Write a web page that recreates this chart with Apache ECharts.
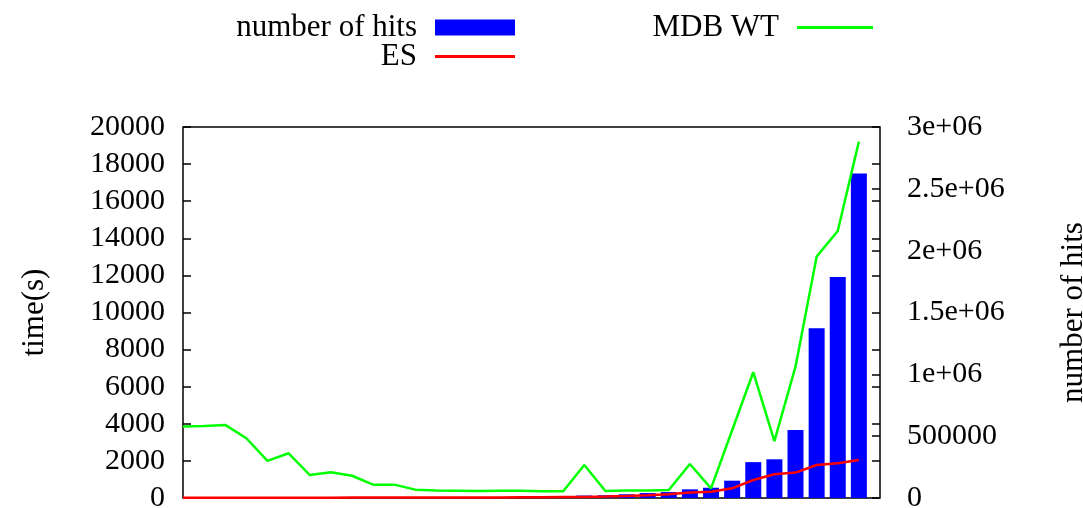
<!DOCTYPE html>
<html>
<head>
<meta charset="utf-8">
<script src="https://cdn.jsdelivr.net/npm/echarts@6/dist/echarts.min.js"></script>
<style>html,body{margin:0;padding:0;background:#fff}#c{width:1083px;height:508px}</style>
</head>
<body>
<div id="c"></div>
<script>
// Data (33 runs, x = run index)
var xIndex = [0,1,2,3,4,5,6,7,8,9,10,11,12,13,14,15,16,17,18,19,20,21,22,23,24,25,26,27,28,29,30,31,32];
var hits = [200,300,400,500,600,800,1000,1200,1500,1800,2200,2700,3300,4000,5000,6000,8000,11000,15000,20000,22000,30000,40000,48000,70000,83000,140000,290000,313000,550000,1372000,1787000,2625000];
var esTime = [15,15,16,17,18,18,20,20,22,22,24,25,27,28,30,32,35,40,50,60,75,110,150,200,290,340,520,970,1280,1370,1780,1870,2050];
var mdbTime = [3850,3880,3940,3220,2000,2410,1240,1390,1200,720,720,450,400,395,380,390,390,370,360,1780,380,400,410,430,1830,520,3650,6780,3070,7080,13010,14390,19210];
var leftTicks = [0,2000,4000,6000,8000,10000,12000,14000,16000,18000,20000];
var rightTicks = [0,500000,1000000,1500000,2000000,2500000,3000000];

function pairs(vals){ return xIndex.map(function(x,i){ return [x, vals[i]]; }); }

var FONT = '"Liberation Serif", serif';
var chart = echarts.init(document.getElementById('c'), null, {renderer:'canvas'});
var legendBase = {
  orient:'horizontal', align:'right', padding:0, itemGap:0,
  textStyle:{fontFamily:FONT, fontSize:31, color:'#000', lineHeight:30, padding:[0,13,0,0]},
  selectedMode:false
};
chart.setOption({
  animation:false,
  backgroundColor:'#fff',
  textStyle:{fontFamily:FONT},
  legend:[
    Object.assign({}, legendBase, {right:568, top:12, itemWidth:80, itemHeight:16,
      data:[{name:'number of hits', icon:'rect'}]}),
    Object.assign({}, legendBase, {right:568, top:41, itemWidth:80, itemHeight:3,
      data:[{name:'ES', icon:'rect'}]}),
    Object.assign({}, legendBase, {right:210, top:12, itemWidth:76, itemHeight:3,
      data:[{name:'MDB WT', icon:'rect'}]})
  ],
  grid:{left:183, right:203, top:127, bottom:10, show:true, borderColor:'#000', borderWidth:1.5,
        backgroundColor:'transparent', containLabel:false, outerBoundsMode:'none'},
  xAxis:{type:'value', min:0, max:33, show:false},
  yAxis:[
    {type:'value', position:'left', min:0, max:20000, interval:2000,
     name:'time(s)', nameLocation:'middle', nameGap:133, nameRotate:90,
     nameTextStyle:{fontFamily:FONT, fontSize:31, color:'#000'},
     axisLine:{show:false}, splitLine:{show:false},
     axisTick:{show:true, inside:true, length:8, lineStyle:{color:'#000', width:1.5}},
     axisLabel:{fontFamily:FONT, fontSize:30, color:'#000', margin:18,
       formatter:function(v){ return String(v); }}},
    {type:'value', position:'right', min:0, max:20000, interval:2000,
     axisLine:{show:false}, splitLine:{show:false}, axisLabel:{show:false},
     axisTick:{show:true, inside:true, length:8, lineStyle:{color:'#000', width:1.5}}},
    {type:'value', position:'right', min:0, max:3000000, interval:500000,
     name:'number of hits', nameLocation:'middle', nameGap:178, nameRotate:90,
     nameTextStyle:{fontFamily:FONT, fontSize:31, color:'#000'},
     axisLine:{show:false}, splitLine:{show:false},
     axisTick:{show:true, inside:true, length:8, lineStyle:{color:'#000', width:1.5}},
     axisLabel:{fontFamily:FONT, fontSize:30, color:'#000', margin:27, align:'left',
       formatter:function(v){
         if (v === 0) return '0';
         if (v < 1000000) return String(v);
         return (v/1000000) + 'e+06';
       }}}
  ],
  series:[
    {name:'number of hits', type:'bar', xAxisIndex:0, yAxisIndex:2, barWidth:16,
     itemStyle:{color:'#0000ff'}, data:pairs(hits), z:2},
    {name:'ES', type:'line', yAxisIndex:0, symbol:'none', showSymbol:false,
     lineStyle:{color:'#ff0000', width:2.5}, itemStyle:{color:'#ff0000'}, data:pairs(esTime), z:3},
    {name:'MDB WT', type:'line', yAxisIndex:0, symbol:'none', showSymbol:false,
     lineStyle:{color:'#00ff00', width:2.5}, itemStyle:{color:'#00ff00'}, data:pairs(mdbTime), z:4}
  ]
});
</script>
</body>
</html>
